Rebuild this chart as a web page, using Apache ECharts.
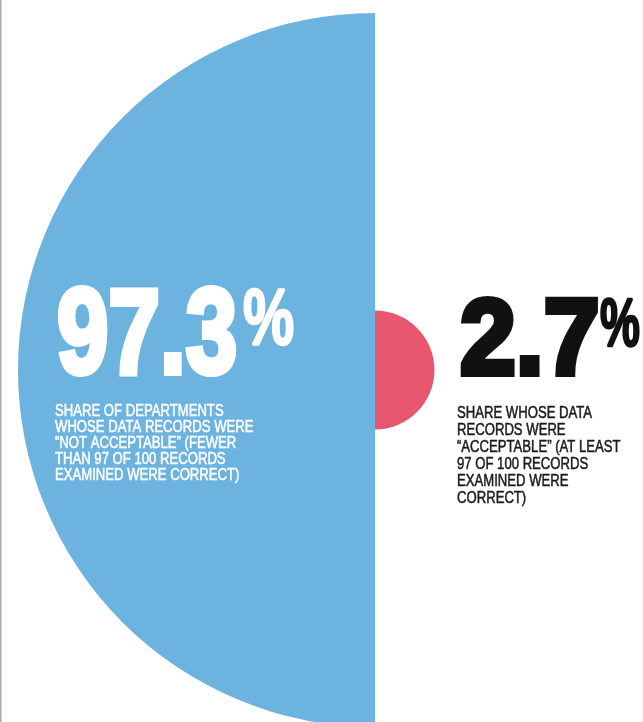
<!DOCTYPE html>
<html>
<head>
<meta charset="utf-8">
<style>
  html, body { margin: 0; padding: 0; background: #ffffff; }
  #chart { width: 643px; height: 722px; }
</style>
<script src="https://cdn.jsdelivr.net/npm/echarts@6/dist/echarts.min.js"></script>
</head>
<body>
<div id="chart"></div>
<script>
// Share of departments by data-record quality (percent)
const categories = ['Not acceptable', 'Acceptable'];
const shares = [97.3, 2.7];
const captions = [
  'SHARE OF DEPARTMENTS\nWHOSE DATA RECORDS WERE\n\u201cNOT ACCEPTABLE\u201d (FEWER\nTHAN 97 OF 100 RECORDS\nEXAMINED WERE CORRECT)',
  'SHARE WHOSE DATA\nRECORDS WERE\n\u201cACCEPTABLE\u201d (AT LEAST\n97 OF 100 RECORDS\nEXAMINED WERE\nCORRECT)'
];

const BLUE = '#6cb4df';
const PINK = '#e8566f';
const FAMILY = '"Liberation Sans", Arial, sans-serif';

const chart = echarts.init(document.getElementById('chart'), null, { renderer: 'canvas' });

// Half-discs whose areas follow the shares: radius ~ sqrt(share)
const pieData = categories.map((name, i) => ({
  name: name,
  value: Math.sqrt(shares[i]),
  itemStyle: { color: i === 0 ? BLUE : PINK }
}));

// Heavy condensed figure (horizontally squeezed bold face, thickened by a stroke)
function bigNumber(value, x, y, size, color, sx) {
  return {
    type: 'text',
    z: 100,
    x: x, y: y,
    scaleX: sx,
    style: {
      text: String(value),
      font: 'bold ' + size + 'px ' + FAMILY,
      fill: color,
      stroke: color,
      lineWidth: 6,
      lineJoin: 'round',
      align: 'left',
      verticalAlign: 'middle'
    }
  };
}

function percentSign(x, y, size, color, sx) {
  return {
    type: 'text',
    z: 100,
    x: x, y: y,
    scaleX: sx,
    style: {
      text: '%',
      font: 'bold ' + size + 'px ' + FAMILY,
      fill: color,
      stroke: color,
      lineWidth: 2.5,
      lineJoin: 'round',
      align: 'left',
      verticalAlign: 'middle'
    }
  };
}

function caption(text, x, y, color, lh) {
  return {
    type: 'text',
    z: 100,
    x: x, y: y,
    scaleX: 0.82,
    style: {
      text: text,
      font: '16px ' + FAMILY,
      fill: color,
      stroke: color,
      lineWidth: 0.5,
      lineHeight: lh,
      align: 'left',
      verticalAlign: 'top'
    }
  };
}

chart.setOption({
  backgroundColor: '#ffffff',
  animation: false,
  series: [{
    type: 'pie',
    roseType: 'area',
    center: [375, 370],
    radius: [0, 357],
    startAngle: 90,
    clockwise: false,
    silent: true,
    z: 1,
    label: { show: false },
    labelLine: { show: false },
    emphasis: { disabled: true },
    itemStyle: { borderWidth: 0 },
    data: pieData
  }],
  graphic: [
    // thin rule along the left edge
    {
      type: 'line',
      z: 100,
      shape: { x1: 0.75, y1: 0, x2: 0.75, y2: 722 },
      style: { stroke: '#a8a8a8', lineWidth: 1.5 }
    },
    bigNumber(shares[0], 57, 340, 121, '#ffffff', 0.765),
    percentSign(243, 322, 80, '#ffffff', 0.72),
    caption(captions[0], 55, 403, '#ffffff', 16.2),
    bigNumber(shares[1], 460, 344, 108, '#111111', 0.93),
    percentSign(600, 327, 68, '#111111', 0.66),
    caption(captions[1], 457, 405, '#1a1a1a', 17)
  ]
});
</script>
</body>
</html>
